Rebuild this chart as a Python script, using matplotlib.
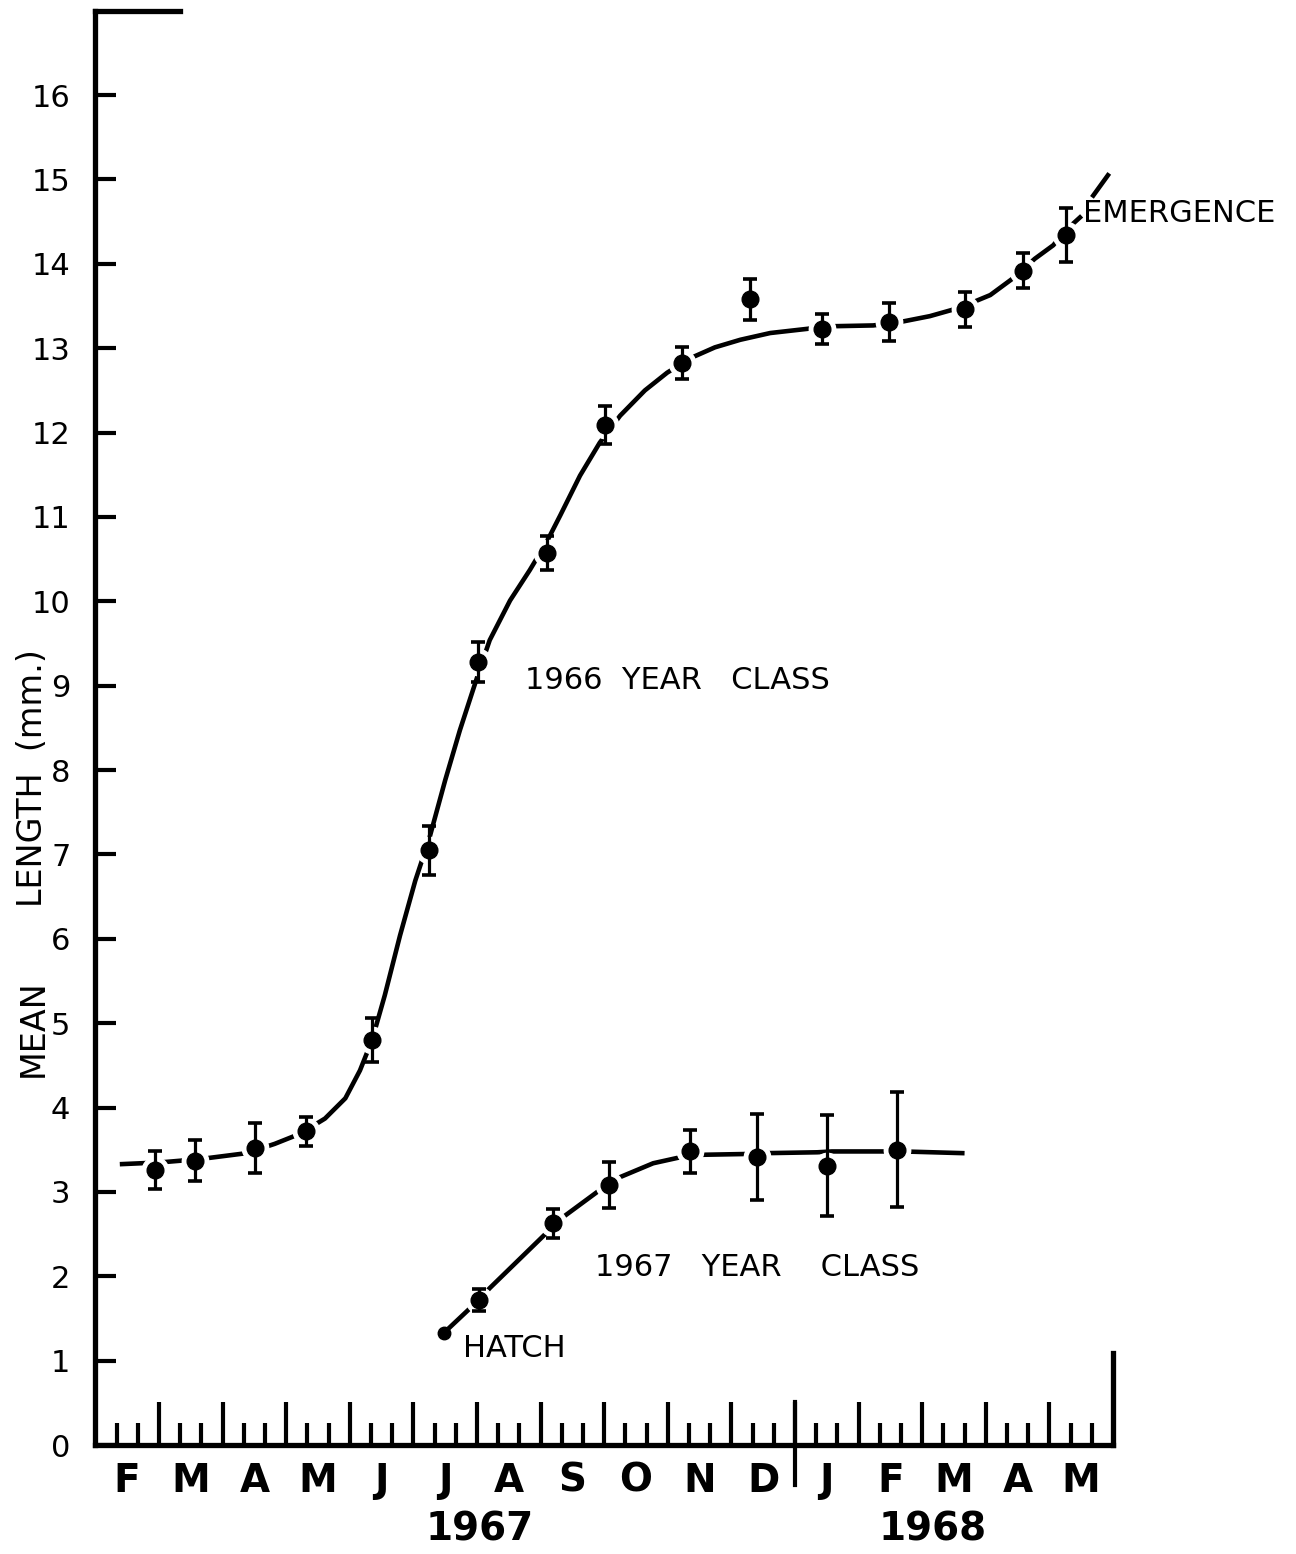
import numpy as np
import matplotlib.pyplot as plt

# x axis is in months, 0 = 1 Feb 1967
month_labels = ['F', 'M', 'A', 'M', 'J', 'J', 'A', 'S', 'O', 'N', 'D',
                'J', 'F', 'M', 'A', 'M']
year_labels = ['1967', '1968']
year_pos = [6.05, 13.17]

# 1966 year class: mean length (mm) and error bar half-widths
x66 = [0.94, 1.57, 2.51, 3.31, 4.35, 5.25, 6.02, 7.10, 8.01, 9.22,
       10.29, 11.42, 12.48, 13.67, 14.58, 15.26]
y66 = [3.26, 3.37, 3.52, 3.72, 4.80, 7.05, 9.28, 10.57, 12.09, 12.82,
       13.58, 13.23, 13.31, 13.46, 13.92, 14.34]
e66 = [0.23, 0.24, 0.30, 0.17, 0.26, 0.29, 0.24, 0.20, 0.22, 0.19,
       0.24, 0.18, 0.23, 0.21, 0.21, 0.32]

# 1967 year class
hatch_x = [5.48]
hatch_y = [1.33]
x67 = [6.03, 7.20, 8.08, 9.35, 10.40, 11.50, 12.60]
y67 = [1.72, 2.63, 3.08, 3.48, 3.41, 3.31, 3.50]
e67 = [0.13, 0.17, 0.27, 0.25, 0.51, 0.60, 0.68]

# hand drawn growth curves
curve66_x = [0.42, 1.02, 1.65, 2.38, 2.82, 3.22, 3.61, 3.93, 4.16, 4.35,
             4.55, 4.79, 5.03, 5.25, 5.50, 5.73, 5.92, 6.05, 6.20, 6.52,
             6.83, 7.10, 7.31, 7.62, 7.93, 8.25, 8.64, 8.99, 9.35, 9.74,
             10.14, 10.61, 11.08, 11.55, 12.23, 12.65, 13.12, 13.59, 14.07,
             14.43, 14.77, 15.06, 15.29, 15.48, np.nan, 15.69, 15.92]
curve66_y = [3.33, 3.35, 3.39, 3.46, 3.57, 3.69, 3.87, 4.11, 4.44, 4.80,
             5.33, 6.04, 6.69, 7.19, 7.88, 8.47, 8.91, 9.21, 9.54, 10.01,
             10.37, 10.71, 11.02, 11.49, 11.88, 12.20, 12.50, 12.71, 12.88,
             13.01, 13.10, 13.18, 13.22, 13.26, 13.27, 13.31, 13.38, 13.48,
             13.63, 13.83, 14.06, 14.22, 14.42, 14.55, np.nan, 14.81, 15.05]
curve67_x = [5.48, 6.03, 6.20, 7.10, 7.35, 7.89, 8.20, 8.77, 9.19, 9.51,
             10.25, 10.56, 11.35, 11.58, 12.42, 12.70, 13.63]
curve67_y = [1.33, 1.72, 1.86, 2.52, 2.70, 3.00, 3.16, 3.34, 3.41, 3.44,
             3.45, 3.46, 3.47, 3.48, 3.48, 3.48, 3.46]

fig = plt.figure(figsize=(12.96, 15.54), dpi=100)
ax = fig.add_axes([0.0736, 0.0701, 0.7852, 0.9230])
ax.set_xlim(0, 16)
ax.set_ylim(0, 17)

for s in ['top', 'right']:
    ax.spines[s].set_visible(False)
for s in ['left', 'bottom']:
    ax.spines[s].set_linewidth(3.8)

ax.set_yticks(range(17))
ax.tick_params(axis='y', direction='in', length=15, width=3, pad=18, labelsize=22)
ax.set_xticks(np.arange(16) + 0.5, month_labels)
ax.tick_params(axis='x', length=0, pad=12, labelsize=28)
for lbl in ax.get_xticklabels():
    lbl.set_fontweight('bold')

# month ticks (tall) and ten-day ticks (short)
k = np.arange(1, 48)
ax.vlines(np.arange(1, 16), 0, 0.51, color='k', lw=3, clip_on=False)
ax.vlines(k[k % 3 != 0] / 3, 0, 0.26, color='k', lw=3, clip_on=False)
ax.plot([11, 11], [-0.47, 0.51], color='k', lw=3, clip_on=False)
ax.plot([16, 16], [0, 1.09], color='k', lw=3.8, clip_on=False,
        solid_capstyle='projecting')
ax.plot([0, 1.33], [17, 17], color='k', lw=3.8, clip_on=False,
        solid_capstyle='projecting')

# curves
ax.plot(curve66_x, curve66_y, color='k', lw=3.3, zorder=2, clip_on=False)
ax.plot(curve67_x, curve67_y, color='k', lw=3.3, zorder=2, clip_on=False)

# white halo breaks the curve round each point
for xs, ys in [(x66, y66), (x67, y67)]:
    ax.plot(xs, ys, 'o', ms=19, color='white', zorder=3, clip_on=False)
ax.errorbar(x66, y66, yerr=e66, fmt='none', ecolor='k', elinewidth=2.3,
            capsize=5, capthick=2.6, zorder=4)
ax.errorbar(x67, y67, yerr=e67, fmt='none', ecolor='k', elinewidth=2.3,
            capsize=5, capthick=2.6, zorder=4)
ax.plot(x66, y66, 'o', ms=12, color='k', zorder=5, clip_on=False)
ax.plot(x67, y67, 'o', ms=12, color='k', zorder=5, clip_on=False)
ax.plot(hatch_x, hatch_y, 'o', ms=9, color='k', zorder=5)

# labels
ax.text(6.75, 9.06, '1966  YEAR   CLASS', fontsize=22, ha='left', va='center')
ax.text(7.85, 2.10, '1967   YEAR    CLASS', fontsize=22, ha='left', va='center')
ax.text(5.78, 1.15, 'HATCH', fontsize=22, ha='left', va='center')
ax.text(15.53, 14.60, 'EMERGENCE', fontsize=22, ha='left', va='center')

for lab, xp in zip(year_labels, year_pos):
    ax.text(xp, -1.0, lab, fontsize=28, fontweight='bold', ha='center',
            va='center')

fig.text(33 / 1296, 1 - 1028 / 1554, 'MEAN', fontsize=24, rotation=90,
         ha='center', va='center')
fig.text(33 / 1296, 1 - 778 / 1554, 'LENGTH  (mm.)', fontsize=24, rotation=90,
         ha='center', va='center')

fig.savefig('out.png', dpi=100)
